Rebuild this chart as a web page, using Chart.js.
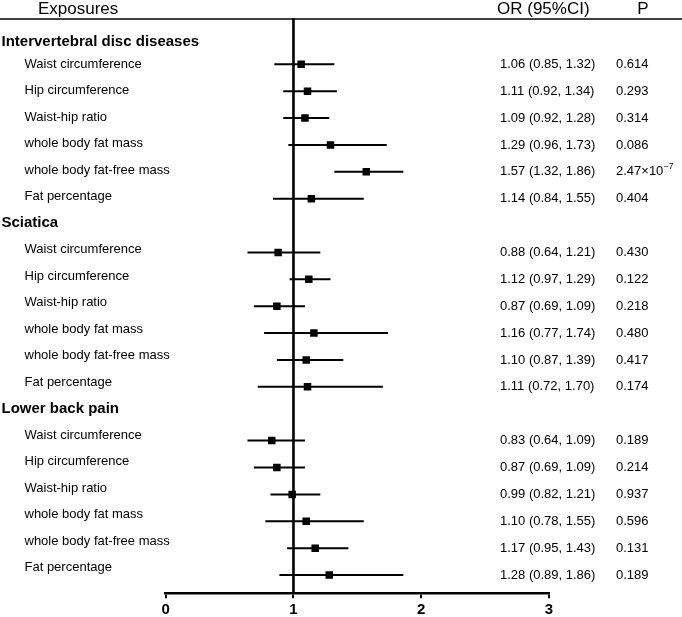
<!DOCTYPE html>
<html><head><meta charset="utf-8">
<script src="https://cdn.jsdelivr.net/npm/chart.js@4"></script>
<style>html,body{margin:0;padding:0;background:#fff;} canvas{display:block;}</style>
</head><body>
<canvas id="c" width="682" height="617"></canvas>
<script>
const groups = ['Intervertebral disc diseases', 'Sciatica', 'Lower back pain'];
const exposures = ['Waist circumference', 'Hip circumference', 'Waist-hip ratio', 'whole body fat mass', 'whole body fat-free mass', 'Fat percentage'];
const orValues = [1.06, 1.11, 1.09, 1.29, 1.57, 1.14, 0.88, 1.12, 0.87, 1.16, 1.10, 1.11, 0.83, 0.87, 0.99, 1.10, 1.17, 1.28];
const ciLower  = [0.85, 0.92, 0.92, 0.96, 1.32, 0.84, 0.64, 0.97, 0.69, 0.77, 0.87, 0.72, 0.64, 0.69, 0.82, 0.78, 0.95, 0.89];
const ciUpper  = [1.32, 1.34, 1.28, 1.73, 1.86, 1.55, 1.21, 1.29, 1.09, 1.74, 1.39, 1.70, 1.09, 1.09, 1.21, 1.55, 1.43, 1.86];
const pValues  = ['0.614', '0.293', '0.314', '0.086', '2.47×10^−7', '0.404', '0.430', '0.122', '0.218', '0.480', '0.417', '0.174', '0.189', '0.214', '0.937', '0.596', '0.131', '0.189'];
const xTicks = [0, 1, 2, 3];
const NULL_OR = 1;

const FONT = '"Liberation Sans", Arial, Helvetica, sans-serif';
const perGroup = exposures.length;
function rowPos(k) { return Math.floor(k / perGroup) * (perGroup + 1) + (k % perGroup); }
function headingPos(g) { return g === 0 ? -0.82 : g * (perGroup + 1) - 1; }

const Y_MIN = -1.685, Y_MAX = 19.68;      // data rows
const YL_MIN = -1.698, YL_MAX = 19.97;    // label rows

const squares = orValues.map((v, k) => ({ x: v, y: rowPos(k) }));
const ciSegs = [];
orValues.forEach((v, k) => {
  ciSegs.push({ x: ciLower[k], y: rowPos(k) });
  ciSegs.push({ x: ciUpper[k], y: rowPos(k) });
  ciSegs.push({ x: null, y: null });
});
const refLine = [{ x: NULL_OR, y: Y_MIN - 0.03 }, { x: NULL_OR, y: Y_MAX }];

const textPlugin = {
  id: 'forestText',
  afterDraw(chart) {
    const ctx = chart.ctx, y = chart.scales.y, yl = chart.scales.yl;
    ctx.save();
    ctx.strokeStyle = '#000';
    ctx.lineWidth = 1.6;
    ctx.beginPath();
    ctx.moveTo(0, chart.chartArea.top);
    ctx.lineTo(chart.width, chart.chartArea.top);
    ctx.stroke();

    ctx.fillStyle = '#000';
    ctx.font = '17px ' + FONT;
    ctx.textBaseline = 'alphabetic';
    ctx.textAlign = 'left';
    ctx.fillText('Exposures', 38, 13.5);
    ctx.fillText('OR (95%CI)', 497, 13.5);
    ctx.textAlign = 'center';
    ctx.fillText('P', 643, 13.5);

    ctx.textAlign = 'left';
    ctx.textBaseline = 'middle';
    ctx.font = 'bold 15px ' + FONT;
    groups.forEach((g, gi) => ctx.fillText(g, 1.5, yl.getPixelForValue(headingPos(gi))));

    ctx.font = '13px ' + FONT;
    orValues.forEach((v, k) => {
      ctx.fillText(exposures[k % perGroup], 24.5, yl.getPixelForValue(rowPos(k)));
      const py = y.getPixelForValue(rowPos(k));
      ctx.fillText(v.toFixed(2) + ' (' + ciLower[k].toFixed(2) + ', ' + ciUpper[k].toFixed(2) + ')', 500, py);
      const p = pValues[k];
      if (p.indexOf('^') >= 0) {
        const parts = p.split('^');
        ctx.font = '13px ' + FONT;
        ctx.fillText(parts[0], 616, py);
        const w = ctx.measureText(parts[0]).width;
        ctx.font = '8.5px ' + FONT;
        ctx.fillText(parts[1], 616 + w + 0.5, py - 5);
        ctx.font = '13px ' + FONT;
      } else {
        ctx.fillText(p, 616, py);
      }
    });
    ctx.restore();
  }
};

new Chart(document.getElementById('c'), {
  type: 'scatter',
  data: {
    datasets: [
      { data: squares, pointStyle: 'rect', pointRadius: 5.3, pointHoverRadius: 5.3, backgroundColor: '#000', borderColor: '#000', borderWidth: 0, showLine: false },
      { data: ciSegs, showLine: true, borderColor: '#000', borderWidth: 2, pointRadius: 0, spanGaps: false },
      { data: refLine, showLine: true, borderColor: '#000', borderWidth: 2.6, pointRadius: 0, clip: false }
    ]
  },
  options: {
    responsive: false,
    animation: false,
    layout: { padding: { left: 165.7, right: 133, top: 19, bottom: -4.3 } },
    plugins: { legend: { display: false }, tooltip: { enabled: false } },
    scales: {
      x: {
        type: 'linear', position: 'bottom', min: 0, max: 3,
        afterBuildTicks: s => { s.ticks = xTicks.map(v => ({ value: v })); },
        border: { display: true, width: 2.5, color: '#000' },
        grid: { display: true, drawOnChartArea: false, drawTicks: true, tickLength: 5, color: '#000', lineWidth: 2 },
        ticks: { color: '#000', padding: 4, font: { family: FONT, size: 15, weight: 'bold', lineHeight: 1 }, callback: v => String(v) }
      },
      y: { type: 'linear', display: false, reverse: true, min: Y_MIN, max: Y_MAX },
      yl: { type: 'linear', display: false, reverse: true, min: YL_MIN, max: YL_MAX }
    }
  },
  plugins: [textPlugin]
});
</script>
</body></html>
